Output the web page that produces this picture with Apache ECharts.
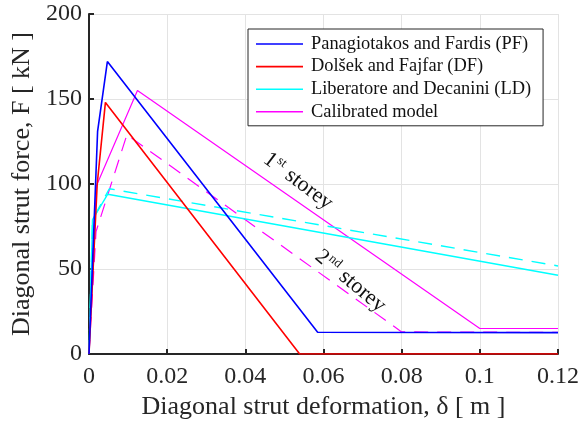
<!DOCTYPE html>
<html>
<head>
<meta charset="utf-8">
<script src="https://cdn.jsdelivr.net/npm/echarts@6/dist/echarts.min.js"></script>
<style>
  html, body { margin: 0; padding: 0; background: #fff; }
  #chart { width: 582px; height: 429px; }
</style>
</head>
<body>
<div id="chart"></div>
<script>
// Axial force–deformation envelopes of the equivalent diagonal strut
const xTicks = [0, 0.02, 0.04, 0.06, 0.08, 0.1, 0.12];
const yTicks = [0, 50, 100, 150, 200];

// Panagiotakos and Fardis (PF)
const pfX = [0, 0.0022, 0.0047, 0.0585, 0.12];
const pfY = [0, 131, 172, 12.8, 12.6];
// Dolšek and Fajfar (DF)
const dfX = [0, 0.0021, 0.0042, 0.0539, 0.12];
const dfY = [0, 100, 148, 0, 0];
// Liberatore and Decanini (LD), 1st and 2nd storey
const ld1X = [0, 0.0009, 0.0048, 0.12];
const ld1Y = [0, 79, 94, 46.3];
const ld2X = [0, 0.0009, 0.0052, 0.12];
const ld2Y = [0, 79, 97.2, 51.8];
// Calibrated model, 1st and 2nd storey
const cm1X = [0, 0.0019, 0.0124, 0.1, 0.12];
const cm1Y = [0, 99, 155, 15, 15];
const cm2X = [0, 0.0018, 0.0097, 0.08, 0.12];
const cm2Y = [0, 72, 129, 13, 12.7];

const legendNames = [
  'Panagiotakos and Fardis (PF)',
  'Dolšek and Fajfar (DF)',
  'Liberatore and Decanini (LD)',
  'Calibrated model'
];

const FONT = '"Liberation Serif", "Times New Roman", serif';
const INK = '#262626';
const zip = (xs, ys) => xs.map((x, i) => [x, ys[i]]);

function line(name, xs, ys, color, width, dashed) {
  return {
    name: name,
    type: 'line',
    data: zip(xs, ys),
    symbol: 'none',
    animation: false,
    lineStyle: { color: color, width: width, type: dashed ? [14, 9] : 'solid' },
    itemStyle: { color: color },
    z: 3
  };
}

const chart = echarts.init(document.getElementById('chart'), null, { renderer: 'canvas' });

chart.setOption({
  animation: false,
  backgroundColor: '#ffffff',
  textStyle: { fontFamily: FONT },
  grid: { left: 89, right: 23, top: 14, bottom: 75, containLabel: false },
  xAxis: {
    type: 'value',
    min: xTicks[0],
    max: xTicks[xTicks.length - 1],
    interval: xTicks[1] - xTicks[0],
    name: 'Diagonal strut deformation, δ [ m ]',
    nameLocation: 'middle',
    nameGap: 40,
    nameTextStyle: { fontFamily: FONT, fontSize: 26, color: INK },
    axisLine: { show: true, onZero: false, lineStyle: { color: INK, width: 2 } },
    axisTick: { show: true, inside: true, length: 5, lineStyle: { color: INK, width: 2 } },
    axisLabel: { fontFamily: FONT, fontSize: 24, color: INK, margin: 11 },
    splitLine: { show: true, lineStyle: { color: '#e3e3e3', width: 1 } }
  },
  yAxis: {
    type: 'value',
    min: yTicks[0],
    max: yTicks[yTicks.length - 1],
    interval: yTicks[1] - yTicks[0],
    name: 'Diagonal strut force, F [ kN ]',
    nameLocation: 'middle',
    nameGap: 48,
    nameTextStyle: { fontFamily: FONT, fontSize: 26, color: INK },
    axisLine: { show: true, onZero: false, lineStyle: { color: INK, width: 2 } },
    axisTick: { show: true, inside: true, length: 5, lineStyle: { color: INK, width: 2 } },
    axisLabel: { fontFamily: FONT, fontSize: 24, color: INK, margin: 7 },
    splitLine: { show: true, lineStyle: { color: '#e3e3e3', width: 1 } }
  },
  legend: {
    data: legendNames,
    orient: 'vertical',
    left: 248,
    top: 29,
    padding: [6, 12, 5, 8],
    icon: 'rect',
    itemWidth: 47,
    itemHeight: 1.6,
    itemGap: 4.6,
    borderColor: INK,
    borderWidth: 1,
    backgroundColor: '#ffffff',
    textStyle: { fontFamily: FONT, fontSize: 18.4, color: '#111', padding: [0, 0, 0, 3] }
  },
  series: [
    line('Calibrated model', cm1X, cm1Y, '#ff00ff', 1.2, false),
    line('Calibrated model 2nd storey', cm2X, cm2Y, '#ff00ff', 1.2, true),
    line('Liberatore and Decanini (LD)', ld1X, ld1Y, '#00ffff', 1.4, false),
    line('Liberatore and Decanini 2nd storey', ld2X, ld2Y, '#00ffff', 1.4, true),
    line('Dolšek and Fajfar (DF)', dfX, dfY, '#ff0000', 1.6, false),
    line('Panagiotakos and Fardis (PF)', pfX, pfY, '#0000ff', 1.6, false)
  ]
});

// Storey annotations placed in data space along the calibrated envelopes
const notes = [
  { at: [0.0452, 116], main: '1', sup: 'st', angle: 37 },
  { at: [0.0585, 59], main: '2', sup: 'nd', angle: 40 }
];
chart.setOption({
  graphic: notes.map(n => {
    const p = chart.convertToPixel({ gridIndex: 0 }, n.at);
    return {
      type: 'text',
      x: p[0],
      y: p[1],
      rotation: -n.angle * Math.PI / 180,
      z: 10,
      style: {
        text: n.main + '{s|' + n.sup + '} storey',
        fill: '#111',
        font: '22px ' + FONT,
        textAlign: 'left',
        textVerticalAlign: 'middle',
        rich: {
          s: { fontSize: 13, fontFamily: FONT, fill: '#111', padding: [0, 1, 11, 1] }
        }
      }
    };
  })
});
</script>
</body>
</html>
